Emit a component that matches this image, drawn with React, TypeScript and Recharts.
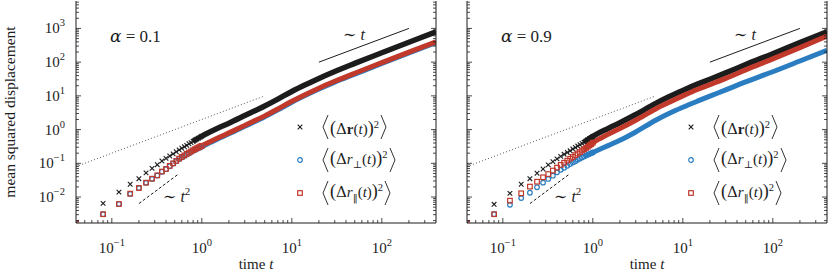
import React from "react";
import { ComposedChart, Line, Scatter, XAxis, YAxis, Legend } from "recharts";

const FONT = "'Liberation Serif', 'DejaVu Serif', serif";
const MATH = "'DejaVu Serif', serif";
const INK = "#1c1c1c";
const BLUE = "#2a7dc0";
const RED = "#c0392b";

// axes (log–log)
const tDomain = [0.04, 400];
const msdDomain = [0.0017, 6500];
const xMajors = [0.1, 1, 10, 100];
const yMajors = [0.01, 0.1, 1, 10, 100, 1000];
const minorSteps = [2, 3, 4, 5, 6, 7, 8, 9];

// separate markers at short times
const earlyT = [0.04, 0.08, 0.12, 0.16, 0.2, 0.24, 0.28, 0.32, 0.36, 0.4, 0.44, 0.48, 0.52, 0.56, 0.6, 0.64, 0.68, 0.72, 0.76, 0.8, 0.84, 0.88, 0.92, 0.96, 1.0];
// dense part, where the markers merge into a band
const bandT = [0.8, 1, 1.5, 2, 3, 5, 7, 10, 15, 20, 30, 50, 100, 200, 400];

// alpha = 0.1
const lowBlackEarly = [0.0017, 0.0065, 0.014, 0.024, 0.035, 0.052, 0.071, 0.091, 0.117, 0.14, 0.165, 0.19, 0.22, 0.25, 0.28, 0.31, 0.34, 0.38, 0.41, 0.45, 0.49, 0.52, 0.56, 0.6, 0.64];
const lowBlueEarly = [0.0017, 0.0031, 0.0062, 0.0124, 0.0184, 0.0264, 0.0345, 0.0435, 0.056, 0.067, 0.082, 0.098, 0.115, 0.134, 0.15, 0.166, 0.183, 0.2, 0.217, 0.234, 0.25, 0.266, 0.282, 0.298, 0.313];
const lowRedEarly = [0.0017, 0.0031, 0.0062, 0.0126, 0.0186, 0.0267, 0.035, 0.044, 0.057, 0.068, 0.084, 0.1, 0.118, 0.138, 0.155, 0.172, 0.19, 0.208, 0.226, 0.245, 0.262, 0.28, 0.297, 0.315, 0.33];
const lowBlackBand = [0.45, 0.64, 1.1, 1.55, 2.6, 5.0, 8.0, 13.5, 23, 33, 53, 92, 190, 390, 790];
const lowBlueBand = [0.234, 0.313, 0.53, 0.75, 1.25, 2.4, 3.85, 6.5, 11.1, 15.9, 25.5, 44, 92, 188, 380];
const lowRedBand = [0.245, 0.33, 0.56, 0.8, 1.33, 2.55, 4.1, 6.9, 11.8, 16.9, 27, 47, 97, 198, 400];

// alpha = 0.9
const highBlackEarly = [0.0017, 0.0061, 0.0129, 0.0239, 0.035, 0.0507, 0.068, 0.0896, 0.112, 0.135, 0.16, 0.185, 0.21, 0.235, 0.265, 0.295, 0.325, 0.355, 0.39, 0.42, 0.46, 0.5, 0.54, 0.58, 0.63];
const highBlueEarly = [0.0017, 0.0031, 0.0059, 0.0093, 0.0134, 0.0195, 0.0267, 0.0344, 0.043, 0.054, 0.064, 0.074, 0.084, 0.095, 0.105, 0.115, 0.127, 0.138, 0.15, 0.16, 0.17, 0.18, 0.19, 0.2, 0.21];
const highRedEarly = [0.0017, 0.0031, 0.0078, 0.0129, 0.0204, 0.0285, 0.0385, 0.048, 0.061, 0.0745, 0.0896, 0.104, 0.12, 0.137, 0.155, 0.175, 0.195, 0.215, 0.24, 0.26, 0.285, 0.31, 0.34, 0.37, 0.41];
const highBlackBand = [0.42, 0.63, 1.1, 1.6, 2.8, 6.0, 9.4, 14.5, 23, 31, 48, 85, 178, 380, 800];
const highBlueBand = [0.16, 0.21, 0.34, 0.48, 0.85, 1.9, 3.0, 4.6, 7.2, 9.8, 15, 26, 52, 108, 226];
const highRedBand = [0.26, 0.41, 0.74, 1.08, 1.9, 4.1, 6.4, 10, 16, 21.5, 33, 59, 125, 270, 590];

// guide lines
const linGuideT = [20, 200];
const linGuideV = [100, 1000];
const quadGuideT = [0.2, 0.55];
const quadGuideV = [0.0064, 0.048];
const dotGuideT = [0.04, 5];
const dotGuideV = [0.08, 10];

const pts = (ts: number[], vs: number[]) => ts.map((t, i) => ({ t, v: vs[i] }));

const isMajor = (v: number) => Math.abs(Math.log10(v) - Math.round(Math.log10(v))) < 1e-6;

function logTicks(domain: number[], majors: number[]) {
  const out: number[] = [];
  for (const d of [majors[0] / 10, ...majors]) {
    for (const m of [1, ...minorSteps]) {
      const v = +(d * m).toPrecision(6);
      if (v > domain[0] * 1.0001 && v < domain[1] * 0.9999) out.push(v);
    }
  }
  return out;
}
const xTicks = logTicks(tDomain, xMajors);
const yTicks = logTicks(msdDomain, yMajors);

type Side = "bottom" | "top" | "left" | "right";

const tickFor = (side: Side, labels: boolean) => (p: any) => {
  const { x, y, payload } = p;
  const v = payload.value;
  const major = isMajor(v);
  const len = major ? 5 : 3;
  let x2 = x;
  let y2 = y;
  if (side === "bottom") y2 = y - len;
  if (side === "top") y2 = y + len;
  if (side === "left") x2 = x + len;
  if (side === "right") x2 = x - len;
  const e = Math.round(Math.log10(v));
  const exp = e < 0 ? `\u2212${-e}` : `${e}`;
  return (
    <g>
      <line x1={x} y1={y} x2={x2} y2={y2} stroke={INK} strokeWidth={0.8} />
      {labels && major && side === "bottom" && (
        <text x={x} y={y + 30} textAnchor="middle" fontFamily={FONT} fontSize={15} fill={INK}>
          10<tspan dy={-7} fontSize={10.5}>{exp}</tspan>
        </text>
      )}
      {labels && major && side === "left" && (
        <text x={x - 11} y={y + 5} textAnchor="end" fontFamily={FONT} fontSize={15} fill={INK}>
          10<tspan dy={-7} fontSize={10.5}>{exp}</tspan>
        </text>
      )}
    </g>
  );
};

const timeLabel = (p: any) => {
  const vb = p.viewBox;
  return (
    <text x={vb.x + vb.width / 2} y={vb.y + 46} textAnchor="middle" fontFamily={FONT} fontSize={15} fill={INK}>
      time <tspan fontStyle="italic">t</tspan>
    </text>
  );
};

const msdLabel = (p: any) => {
  const vb = p.viewBox;
  const cy = vb.y + vb.height / 2;
  return (
    <text x={15} y={cy} transform={`rotate(-90, 15, ${cy})`} textAnchor="middle" fontFamily={FONT} fontSize={15.5} fill={INK}>
      mean squared displacement
    </text>
  );
};

const Cross = ({ cx, cy }: any) => (
  <g stroke={INK} strokeWidth={1.1}>
    <line x1={cx - 2.3} y1={cy - 2.3} x2={cx + 2.3} y2={cy + 2.3} />
    <line x1={cx - 2.3} y1={cy + 2.3} x2={cx + 2.3} y2={cy - 2.3} />
  </g>
);
const Ring = ({ cx, cy }: any) => <circle cx={cx} cy={cy} r={2.3} fill="none" stroke={BLUE} strokeWidth={1.2} />;
const Box = ({ cx, cy }: any) => (
  <rect x={cx - 2.3} y={cy - 2.3} width={4.6} height={4.6} fill="none" stroke={RED} strokeWidth={1.2} />
);

const Bracket = ({ flip }: { flip?: boolean }) => (
  <svg width={7} height={26} style={{ display: "block" }}>
    <polyline points={flip ? "1,1 6,13 1,25" : "6,1 1,13 6,25"} fill="none" stroke={INK} strokeWidth={0.9} />
  </svg>
);

const Big = ({ c }: { c: string }) => <span style={{ fontSize: 18 }}>{c}</span>;
const Sym = ({ c }: { c: string }) => <span style={{ fontFamily: MATH }}>{c}</span>;
const sub = { fontSize: 10, fontFamily: MATH } as const;
const sup = { fontSize: 10.5 } as const;

const legendRows = [
  {
    marker: <Cross cx={8} cy={8} />,
    text: (
      <>
        <Big c="(" /><Sym c="Δ" /><b>r</b>(<i>t</i>)<Big c=")" /><sup style={sup}>2</sup>
      </>
    ),
  },
  {
    marker: <Ring cx={8} cy={8} />,
    text: (
      <>
        <Big c="(" /><Sym c="Δ" /><i>r</i><sub style={sub}>⊥</sub>(<i>t</i>)<Big c=")" /><sup style={sup}>2</sup>
      </>
    ),
  },
  {
    marker: <Box cx={8} cy={8} />,
    text: (
      <>
        <Big c="(" /><Sym c="Δ" /><i>r</i><sub style={sub}>‖</sub>(<i>t</i>)<Big c=")" /><sup style={sup}>2</sup>
      </>
    ),
  },
];

const renderLegend = () => (
  <div style={{ fontFamily: FONT, fontSize: 15, color: INK }}>
    {legendRows.map((r, i) => (
      <div key={i} style={{ display: "flex", alignItems: "center", height: 33 }}>
        <svg width={16} height={16} style={{ display: "block", marginRight: 14 }}>{r.marker}</svg>
        <Bracket />
        <span style={{ whiteSpace: "nowrap", lineHeight: "20px", padding: "0 1px" }}>{r.text}</span>
        <Bracket flip />
      </div>
    ))}
  </div>
);

interface PanelProps {
  left: number;
  width: number;
  yAxisWidth: number;
  yLabels: boolean;
  alpha: string;
  black: [number[], number[]];
  blue: [number[], number[]];
  red: [number[], number[]];
}

function Panel({ left, width, yAxisWidth, yLabels, alpha, black, blue, red }: PanelProps) {
  const px0 = yAxisWidth;
  return (
    <div style={{ position: "absolute", left, top: 0, width, height: 278 }}>
      <ComposedChart width={width} height={278} margin={{ top: 1, right: 0, bottom: 0, left: 0 }}>
        <XAxis
          xAxisId="b" dataKey="t" type="number" scale="log" domain={tDomain} allowDataOverflow
          ticks={xTicks} interval={0} tickSize={0} tickMargin={0} tickLine={false}
          tick={tickFor("bottom", true)} height={55} axisLine={{ stroke: INK }} label={timeLabel}
        />
        <XAxis
          xAxisId="top" orientation="top" dataKey="t" type="number" scale="log" domain={tDomain} allowDataOverflow
          ticks={xTicks} interval={0} tickSize={0} tickMargin={0} tickLine={false}
          tick={tickFor("top", false)} height={0} axisLine={{ stroke: INK }}
        />
        <YAxis
          yAxisId="l" type="number" scale="log" domain={msdDomain} allowDataOverflow
          ticks={yTicks} interval={0} tickSize={0} tickMargin={0} tickLine={false}
          tick={tickFor("left", yLabels)} width={yAxisWidth} axisLine={{ stroke: INK }}
          label={yLabels ? msdLabel : undefined}
        />
        <YAxis
          yAxisId="r" orientation="right" type="number" scale="log" domain={msdDomain} allowDataOverflow
          ticks={yTicks} interval={0} tickSize={0} tickMargin={0} tickLine={false}
          tick={tickFor("right", false)} width={4} axisLine={{ stroke: INK }}
        />

        <Line xAxisId="b" yAxisId="l" data={pts(dotGuideT, dotGuideV)} dataKey="v" stroke="#444" strokeWidth={0.9}
          strokeDasharray="1 2.2" dot={false} activeDot={false} isAnimationActive={false} />
        <Line xAxisId="b" yAxisId="l" data={pts(linGuideT, linGuideV)} dataKey="v" stroke={INK} strokeWidth={1}
          dot={false} activeDot={false} isAnimationActive={false} />
        <Line xAxisId="b" yAxisId="l" data={pts(quadGuideT, quadGuideV)} dataKey="v" stroke={INK} strokeWidth={1}
          strokeDasharray="3 2" dot={false} activeDot={false} isAnimationActive={false} />

        <Line xAxisId="b" yAxisId="l" data={pts(bandT, black[1])} dataKey="v" type="monotone" stroke={INK} strokeWidth={5.5}
          dot={false} activeDot={false} isAnimationActive={false} />
        <Scatter xAxisId="b" yAxisId="l" data={pts(earlyT, black[0])} dataKey="v" shape={(p: any) => <Cross cx={p.cx} cy={p.cy} />}
          isAnimationActive={false} />
        <Line xAxisId="b" yAxisId="l" data={pts(bandT, blue[1])} dataKey="v" type="monotone" stroke={BLUE} strokeWidth={5}
          dot={false} activeDot={false} isAnimationActive={false} />
        <Scatter xAxisId="b" yAxisId="l" data={pts(earlyT, blue[0])} dataKey="v" shape={(p: any) => <Ring cx={p.cx} cy={p.cy} />}
          isAnimationActive={false} />
        <Line xAxisId="b" yAxisId="l" data={pts(bandT, red[1])} dataKey="v" type="monotone" stroke={RED} strokeWidth={5}
          dot={false} activeDot={false} isAnimationActive={false} />
        <Scatter xAxisId="b" yAxisId="l" data={pts(earlyT, red[0])} dataKey="v" shape={(p: any) => <Box cx={p.cx} cy={p.cy} />}
          isAnimationActive={false} />

        <Legend layout="vertical" align="center" verticalAlign="middle" content={renderLegend}
          wrapperStyle={{ left: px0 + 216, top: 110, width: 150 }} />
      </ComposedChart>
      <svg width={width} height={278} style={{ position: "absolute", left: 0, top: 0, pointerEvents: "none" }}>
        <text x={px0 + 34} y={42} fontFamily={FONT} fontSize={17} fill={INK}>
          <tspan fontStyle="italic" fontFamily={MATH}>α</tspan> = {alpha}
        </text>
        <text x={px0 + 267} y={40} fontFamily={FONT} fontSize={16} fill={INK}>
          <tspan fontFamily={MATH}>∼</tspan> <tspan fontStyle="italic">t</tspan>
        </text>
        <text x={px0 + 87} y={202} fontFamily={FONT} fontSize={16} fill={INK}>
          <tspan fontFamily={MATH}>∼</tspan> <tspan fontStyle="italic">t</tspan><tspan dy={-7} fontSize={11}>2</tspan>
        </text>
      </svg>
    </div>
  );
}

export default function App() {
  return (
    <div style={{ position: "absolute", left: 0, top: 0, width: 831, height: 278, background: "#fff" }}>
      <Panel left={0} width={440} yAxisWidth={76} yLabels alpha="0.1"
        black={[lowBlackEarly, lowBlackBand]} blue={[lowBlueEarly, lowBlueBand]} red={[lowRedEarly, lowRedBand]} />
      <Panel left={440} width={391} yAxisWidth={27} yLabels={false} alpha="0.9"
        black={[highBlackEarly, highBlackBand]} blue={[highBlueEarly, highBlueBand]} red={[highRedEarly, highRedBand]} />
    </div>
  );
}
